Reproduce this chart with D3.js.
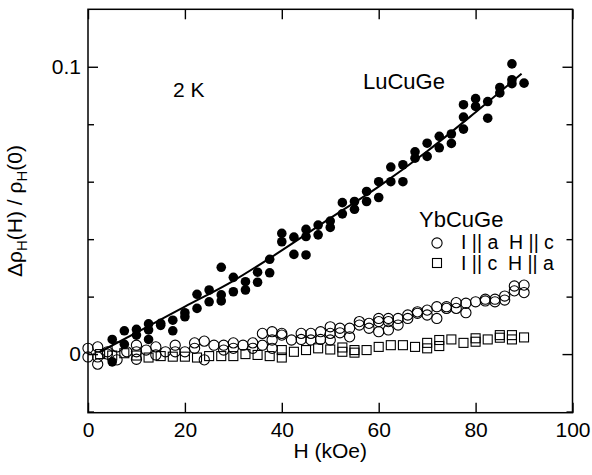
<!DOCTYPE html>
<html>
<head>
<meta charset="utf-8">
<script src="https://cdn.jsdelivr.net/npm/d3@7"></script>
<style>
  body { margin: 0; background: #fff; }
  svg { display: block; }
  text { font-family: "Liberation Sans", Arial, Helvetica, sans-serif; fill: #000; }
</style>
</head>
<body>
<script>
// ---------------- DATA ----------------
// LuCuGe (filled circles)
const luH = [5,5, 7.5,7.5, 10,10, 12.5,12.5,12.5, 15,15, 17.5,17.5, 20,20, 22.5,22.5, 25,25,
  27.5,27.5,27.5, 30,30, 32.5,32.5, 35,35, 37.5,37.5, 40,40, 42.5,42.5, 45,45,45, 47.5,47.5,
  50,50, 52.5,52.5, 55,55, 57.5,57.5, 60,60, 62.5,62.5, 65,65, 67.5,67.5, 70,70, 72.5,72.5,
  75,75, 77.5,77.5,77.5, 80,80, 82.5,82.5, 85,85, 87.5,87.5,87.5, 90];
const luV = [0.0051,-0.0027, 0.0081,0.0034, 0.0086,0.0066, 0.0105,0.0084,0.0051, 0.0107,0.0100,
  0.0118,0.0081, 0.0144,0.0130, 0.0208,0.0159, 0.0223,0.0182, 0.0302,0.0206,0.0185,
  0.0267,0.0217, 0.0252,0.0223, 0.0285,0.0250, 0.0330,0.0283, 0.0420,0.0391, 0.0407,0.0347,
  0.0434,0.0409,0.0345, 0.0449,0.0415, 0.0463,0.0441, 0.0527,0.0488, 0.0531,0.0504,
  0.0566,0.0531, 0.0600,0.0545, 0.0651,0.0600, 0.0659,0.0600, 0.0704,0.0682, 0.0734,0.0688,
  0.0758,0.0718, 0.0766,0.0733, 0.0868,0.0825,0.0783, 0.0889,0.0862, 0.0879,0.0821,
  0.0928,0.0909, 0.1010,0.0955,0.0941, 0.0943];
// LuCuGe guide line
const fitH = [2.5, 10, 20, 30, 40, 50, 60, 70, 80, 89.5];
const fitV = [0.0008, 0.0075, 0.0165, 0.0255, 0.0361, 0.0473, 0.0583, 0.0706, 0.0842, 0.0976];
// YbCuGe, I || a  H || c (open circles)
const ybaH = [0,0, 2,2,2, 4,4, 6,6, 8, 10,10,10, 12, 14,14, 16, 18,18, 20, 22,22, 24,24, 26,
  28,28, 30,30, 32, 34,34, 36,36, 38,38,38, 40,40, 42, 44,44, 46,46, 48,48, 50,50,50, 52,52,
  54,54, 56,56, 58,58, 60,60,60, 62,62,62, 64,64, 66,66, 68,68, 70,70, 72,72, 74,74, 76,76,
  78,78, 80, 82,82, 84,84, 86,86, 88,88, 90,90];
const ybaV = [0.0020,-0.0010, 0.0025,-0.0010,-0.0035, 0.0008,0.0000, 0.0025,-0.0020, 0.0008,
  0.0031,0.0008,-0.0018, 0.0014, 0.0025,-0.0003, 0.0008, 0.0031,0.0008, 0.0008, 0.0039,0.0020,
  0.0045,-0.0020, 0.0031, 0.0031,0.0014, 0.0039,0.0020, 0.0031, 0.0039,0.0020, 0.0072,0.0031,
  0.0078,0.0049,0.0020, 0.0072,0.0066, 0.0049, 0.0072,0.0051, 0.0072,0.0049, 0.0078,0.0051,
  0.0095,0.0072,0.0049, 0.0090,0.0074, 0.0090,0.0060, 0.0113,0.0101, 0.0107,0.0090,
  0.0124,0.0113,0.0078, 0.0124,0.0113,0.0084, 0.0124,0.0101, 0.0136,0.0124, 0.0147,0.0142,
  0.0153,0.0136, 0.0165,0.0124, 0.0165,0.0159, 0.0179,0.0159, 0.0177,0.0144, 0.0182,
  0.0191,0.0185, 0.0191,0.0182, 0.0202,0.0188, 0.0237,0.0220, 0.0240,0.0214];
// YbCuGe, I || c  H || a (open squares)
const ybcH = [2.5, 5, 7.5, 10, 12.5, 15, 17.5, 20, 22.5, 25, 27.5, 30, 32.5, 35, 37.5, 40,40,
  42.5, 45, 47.5, 50, 52.5,52.5, 55,55, 57.5, 60, 62.5, 65, 67.5, 70,70, 72.5,72.5, 75, 77.5,
  80,80, 82.5, 85,85, 87.5,87.5, 90];
const ybcV = [0.0000, -0.0005, 0.0003, -0.0005, -0.0012, -0.0007, -0.0009, -0.0009, -0.0012,
  -0.0007, -0.0007, -0.0007, 0.0000, -0.0003, -0.0007, 0.0014,-0.0012, 0.0008, 0.0014, 0.0020,
  0.0016, 0.0023,0.0008, 0.0014,0.0005, 0.0014, 0.0025, 0.0031, 0.0031, 0.0025, 0.0039,0.0020,
  0.0049,0.0028, 0.0051, 0.0039, 0.0055,0.0043, 0.0051, 0.0066,0.0057, 0.0066,0.0051, 0.0058];

const xTicks = [0, 20, 40, 60, 80, 100];
const yMajorTicks = [0, 0.1];
const yMinorTicks = [-0.02, 0.02, 0.04, 0.06, 0.08];
const xTitle = "H (kOe)";
const legendTitle = "YbCuGe";
const legendLabels = ["I || a  H || c", "I || c  H || a"];

// ---------------- CHART ----------------
const W = 592, H = 475;
const L = 88, R = 572.5, T = 9.3, B = 412.7;
const svg = d3.select("body").append("svg").attr("width", W).attr("height", H);

const x = d3.scaleLinear().domain([0, 100]).range([L, R]);
const y = d3.scaleLinear().domain([-0.0204, 0.12]).range([B, T]);

const FS = 21;

function styleAxis(g) {
  g.select(".domain").remove();
  g.selectAll(".tick line").attr("stroke", "#000").attr("stroke-width", 1.4);
  g.selectAll(".tick text").attr("font-size", FS).attr("font-family", '"Liberation Sans", Arial, sans-serif').attr("fill", "#000");
}

// bottom
svg.append("g").attr("transform", `translate(0,${B})`)
  .call(d3.axisBottom(x).tickValues(xTicks).tickSize(-10).tickPadding(9.5).tickFormat(d3.format("d")))
  .call(styleAxis);
// top
svg.append("g").attr("transform", `translate(0,${T})`)
  .call(d3.axisTop(x).tickValues(xTicks).tickSize(-10).tickFormat(""))
  .call(styleAxis);
// left major
svg.append("g").attr("transform", `translate(${L},0)`)
  .call(d3.axisLeft(y).tickValues(yMajorTicks).tickSize(-10).tickPadding(7).tickFormat(d => d === 0 ? "0" : d3.format(".1f")(d)))
  .call(styleAxis);
// left minor
svg.append("g").attr("transform", `translate(${L},0)`)
  .call(d3.axisLeft(y).tickValues(yMinorTicks).tickSize(-6).tickFormat(""))
  .call(styleAxis);
// right major / minor
svg.append("g").attr("transform", `translate(${R},0)`)
  .call(d3.axisRight(y).tickValues(yMajorTicks).tickSize(-10).tickFormat(""))
  .call(styleAxis);
svg.append("g").attr("transform", `translate(${R},0)`)
  .call(d3.axisRight(y).tickValues(yMinorTicks).tickSize(-6).tickFormat(""))
  .call(styleAxis);

// frame
svg.append("rect").attr("x", L).attr("y", T).attr("width", R - L).attr("height", B - T)
  .attr("fill", "none").attr("stroke", "#000").attr("stroke-width", 1.5);

// squares
const sq = 9;
svg.append("g").selectAll("rect").data(ybcH.map((h, i) => [h, ybcV[i]])).join("rect")
  .attr("x", d => x(d[0]) - sq / 2).attr("y", d => y(d[1]) - sq / 2)
  .attr("width", sq).attr("height", sq)
  .attr("fill", "none").attr("stroke", "#000").attr("stroke-width", 1.1);

// open circles
svg.append("g").selectAll("circle").data(ybaH.map((h, i) => [h, ybaV[i]])).join("circle")
  .attr("cx", d => x(d[0])).attr("cy", d => y(d[1])).attr("r", 5.1)
  .attr("fill", "none").attr("stroke", "#000").attr("stroke-width", 1.1);

// filled circles
svg.append("g").selectAll("circle").data(luH.map((h, i) => [h, luV[i]])).join("circle")
  .attr("cx", d => x(d[0])).attr("cy", d => y(d[1])).attr("r", 4.8)
  .attr("fill", "#000");

// guide line
svg.append("path").datum(fitH.map((h, i) => [h, fitV[i]]))
  .attr("d", d3.line().x(d => x(d[0])).y(d => y(d[1])).curve(d3.curveMonotoneX))
  .attr("fill", "none").attr("stroke", "#000").attr("stroke-width", 2);

// annotations
svg.append("text").attr("x", 173).attr("y", 97).attr("font-size", FS).text("2 K");
svg.append("text").attr("x", 363).attr("y", 89).attr("font-size", 22).text("LuCuGe");
svg.append("text").attr("x", 419).attr("y", 227).attr("font-size", 22).text(legendTitle);

// legend
const lg = svg.append("g");
lg.append("circle").attr("cx", 437).attr("cy", 243).attr("r", 5.1)
  .attr("fill", "none").attr("stroke", "#000").attr("stroke-width", 1.1);
lg.append("rect").attr("x", 437 - sq / 2).attr("y", 263 - sq / 2).attr("width", sq).attr("height", sq)
  .attr("fill", "none").attr("stroke", "#000").attr("stroke-width", 1.1);
lg.append("text").attr("x", 461).attr("y", 249).attr("font-size", 19.5)
  .style("white-space", "pre").text(legendLabels[0]);
lg.append("text").attr("x", 461).attr("y", 270).attr("font-size", 19.5)
  .style("white-space", "pre").text(legendLabels[1]);

// axis titles
svg.append("text").attr("x", (L + R) / 2).attr("y", 458).attr("text-anchor", "middle")
  .attr("font-size", FS).text(xTitle);

const yl = svg.append("text").attr("transform", "translate(22,211) rotate(-90)")
  .attr("text-anchor", "middle").attr("font-size", FS);
yl.append("tspan").text("Δρ");
yl.append("tspan").attr("font-size", 15).attr("dy", 5).text("H");
yl.append("tspan").attr("dy", -5).text("(H) / ρ");
yl.append("tspan").attr("font-size", 15).attr("dy", 5).text("H");
yl.append("tspan").attr("dy", -5).text("(0)");
</script>
</body>
</html>
